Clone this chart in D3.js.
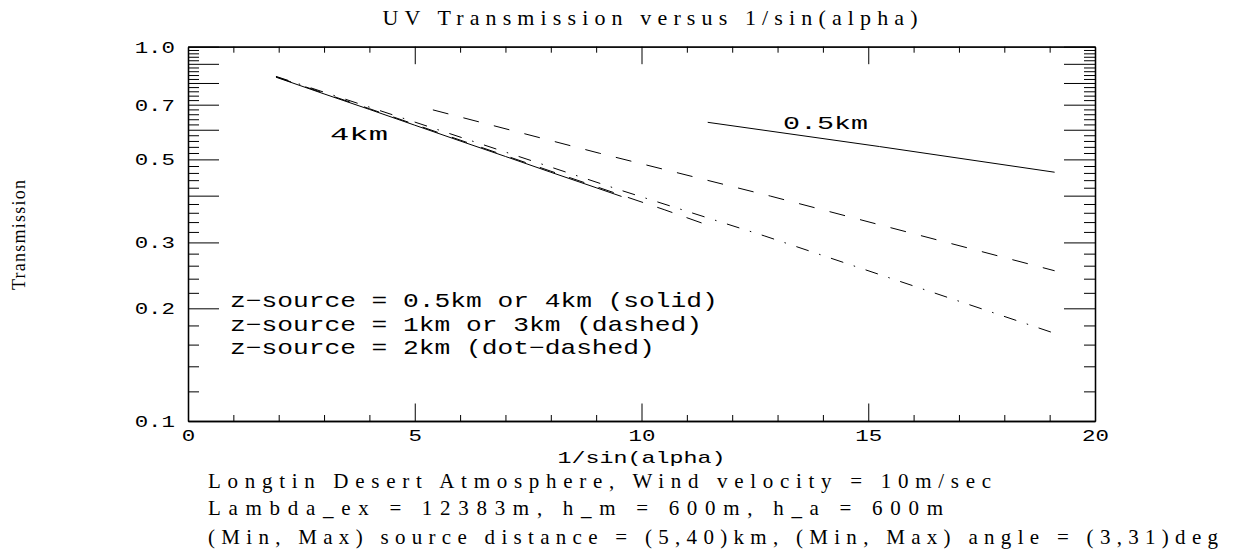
<!DOCTYPE html>
<html><head><meta charset="utf-8">
<script src="https://cdn.jsdelivr.net/npm/d3@7"></script>
<style>body{margin:0;background:#fff}svg{display:block}</style>
</head><body>
<svg id="c" width="1233" height="550"></svg>
<script>
// ---- data ----
const xMajorTicks = [0, 5, 10, 15, 20];
const xMinorTicks = [1,2,3,4,6,7,8,9,11,12,13,14,16,17,18,19];
const yMajorTicks = [0.1,0.2,0.3,0.4,0.5,0.6,0.7,0.8,0.9,1.0];
const yMinorTicks = [0.12,0.14,0.16,0.18,0.22,0.24,0.26,0.28,0.32,0.34,0.36,0.38,
  0.42,0.44,0.46,0.48,0.52,0.54,0.56,0.58,0.62,0.64,0.66,0.68,0.72,0.74,0.76,0.78,
  0.82,0.84,0.86,0.88,0.92,0.94,0.96,0.98];
const yTickLabels = [[0.1,"0.1"],[0.2,"0.2"],[0.3,"0.3"],[0.5,"0.5"],[0.7,"0.7"],[1.0,"1.0"]];

const x4km  = [1.94, 3, 4, 5, 6, 7, 8, 9, 9.56];
const y4km  = [0.829, 0.748, 0.680, 0.617, 0.560, 0.509, 0.462, 0.420, 0.398];
const x3km  = [1.94, 4, 6, 8, 9.56, 10.5, 11.51];
const y3km  = [0.831, 0.683, 0.563, 0.465, 0.401, 0.367, 0.332];
const x2km  = [1.94, 5.37, 9.53, 12.72, 19.11];
const y2km  = [0.833, 0.608, 0.414, 0.312, 0.1715];
const x1km  = [5.40, 9.08, 12.84, 19.11];
const y1km  = [0.678, 0.519, 0.399, 0.252];
const x05km = [11.46, 15.25, 19.11];
const y05km = [0.628, 0.541, 0.462];

const titleText = "UV Transmission versus 1/sin(alpha)";
const xLabel = "1/sin(alpha)";
const yLabel = "Transmission";
const legendLines = ["z\u2212source = 0.5km or 4km (solid)",
                     "z\u2212source = 1km or 3km (dashed)",
                     "z\u2212source = 2km (dot\u2212dashed)"];
const noteLines = ["Longtin Desert Atmosphere, Wind velocity = 10m/sec",
                   "Lambda_ex = 12383m, h_m = 600m, h_a = 600m",
                   "(Min, Max) source distance = (5,40)km, (Min, Max) angle = (3,31)deg"];

// ---- chart ----
const svg = d3.select("#c");
const X0 = 188, X1 = 1095, Y0 = 421, Y1 = 46.7;
const x = d3.scaleLinear().domain([0, 20]).range([X0, X1]);
const y = d3.scaleLog().domain([0.1, 1]).range([Y0, Y1]);
const labelMap = new Map(yTickLabels);
const MONO = "'Liberation Mono', 'Courier New', monospace";
const SERIF = "'Liberation Serif', 'Times New Roman', serif";
const TS = 1.32; // horizontal stretch for tick labels

function styleAxis(g) {
  g.attr("font-family", MONO).attr("font-size", 17);
  g.selectAll(".domain").attr("stroke", "#000").attr("stroke-width", 1.3);
  g.selectAll(".tick line").attr("stroke", "#000").attr("stroke-width", 1);
  g.selectAll(".tick text").attr("fill", "#000");
}
// left
svg.append("g").attr("transform", `translate(${X0},0)`)
  .call(d3.axisLeft(y).tickValues(yMajorTicks).tickSizeInner(-31).tickSizeOuter(0).tickPadding(13)
    .tickFormat(d => labelMap.get(d) || ""))
  .call(styleAxis)
  .call(g => g.selectAll(".tick text").attr("x", -13 / TS).attr("transform", `scale(${TS},1)`));
svg.append("g").attr("transform", `translate(${X0},0)`)
  .call(d3.axisLeft(y).tickValues(yMinorTicks).tickSizeInner(-11).tickSizeOuter(0).tickFormat(""))
  .call(styleAxis);
// right
svg.append("g").attr("transform", `translate(${X1},0)`)
  .call(d3.axisRight(y).tickValues(yMajorTicks).tickSizeInner(-31).tickSizeOuter(0).tickFormat(""))
  .call(styleAxis);
svg.append("g").attr("transform", `translate(${X1},0)`)
  .call(d3.axisRight(y).tickValues(yMinorTicks).tickSizeInner(-11).tickSizeOuter(0).tickFormat(""))
  .call(styleAxis);
// bottom
svg.append("g").attr("transform", `translate(0,${Y0})`)
  .call(d3.axisBottom(x).tickValues(xMajorTicks).tickSizeInner(-17.5).tickSizeOuter(0).tickPadding(8)
    .tickFormat(d3.format("d")))
  .call(styleAxis)
  .call(g => g.selectAll(".tick text").attr("transform", `scale(${TS},1)`));
svg.append("g").attr("transform", `translate(0,${Y0})`)
  .call(d3.axisBottom(x).tickValues(xMinorTicks).tickSizeInner(-6).tickSizeOuter(0).tickFormat(""))
  .call(styleAxis);
// top
svg.append("g").attr("transform", `translate(0,${Y1})`)
  .call(d3.axisTop(x).tickValues(xMajorTicks).tickSizeInner(-17.5).tickSizeOuter(0).tickFormat(""))
  .call(styleAxis);
svg.append("g").attr("transform", `translate(0,${Y1})`)
  .call(d3.axisTop(x).tickValues(xMinorTicks).tickSizeInner(-6).tickSizeOuter(0).tickFormat(""))
  .call(styleAxis);

// lines
const line = d3.line().x(d => x(d[0])).y(d => y(d[1]));
const series = [
  {xs: x4km,  ys: y4km,  dash: null},
  {xs: x05km, ys: y05km, dash: null},
  {xs: x3km,  ys: y3km,  dash: "16,15"},
  {xs: x1km,  ys: y1km,  dash: "16,15.5"},
  {xs: x2km,  ys: y2km,  dash: "13,11,1.5,11"}
];
series.forEach(s => {
  svg.append("path").datum(s.xs.map((v, i) => [v, s.ys[i]]))
    .attr("d", line).attr("fill", "none").attr("stroke", "#000")
    .attr("stroke-width", 1).attr("stroke-dasharray", s.dash);
});

// stretched monospace text (Hershey-like look) fitted to a target width
function wideText(px, py, str, fs, width, anchor) {
  const t = svg.append("text").attr("font-family", MONO).attr("font-size", fs)
    .attr("fill", "#000").attr("text-anchor", anchor || "start").text(str);
  const w = t.node().getComputedTextLength();
  const s = width / w;
  t.attr("transform", `translate(${px},${py}) scale(${s},1)`);
  return t;
}
// curve labels
wideText(330, 140, "4km", 18, 58);
wideText(783, 128.5, "0.5km", 18, 85);
// legend
const legY = [307, 330.5, 354];
legendLines.forEach((t, i) => wideText(230, legY[i], t, 20, 488 * t.length / legendLines[0].length));
// x label
wideText(x(10), 463, xLabel, 17, 168, "middle");

// title
svg.append("text").attr("x", 650).attr("y", 25).attr("text-anchor", "middle")
  .attr("font-family", SERIF).attr("font-size", 22).attr("textLength", 535)
  .attr("lengthAdjust", "spacing").text(titleText);
// y label
svg.append("text").attr("transform", "translate(25,235) rotate(-90)").attr("text-anchor", "middle")
  .attr("font-family", SERIF).attr("font-size", 18).attr("textLength", 110)
  .attr("lengthAdjust", "spacing").text(yLabel);

// notes
const noteY = [488, 515, 544];
const targets = [783, 735, 1010];
noteLines.forEach((t, i) => svg.append("text").attr("x", 208).attr("y", noteY[i])
  .attr("font-family", SERIF).attr("font-size", 21).attr("fill", "#000")
  .attr("textLength", targets[i]).attr("lengthAdjust", "spacing").text(t));
</script>
</body></html>
